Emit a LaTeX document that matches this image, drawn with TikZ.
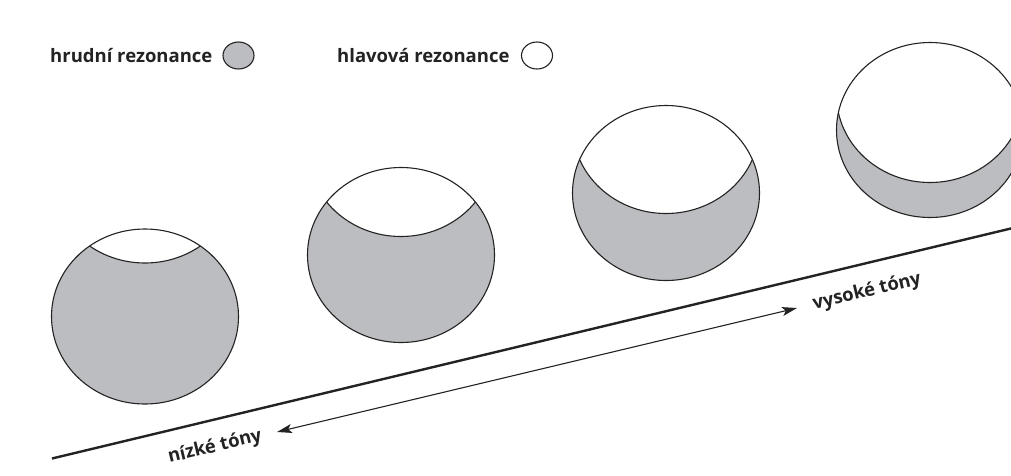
\documentclass[tikz,border=0pt]{standalone}
\usepackage{fontspec}
\newfontfamily\labfont{Open Sans}
\usetikzlibrary{arrows.meta,calc,shapes.geometric}
\definecolor{bowlgrey}{RGB}{188,189,192}
\definecolor{inkc}{RGB}{35,35,35}
\tikzset{
  outline/.style={draw=inkc, line width=1.1pt},
  lab/.style={font=\labfont\bfseries\fontsize{18.5}{20}\selectfont, text=inkc, inner sep=0pt},
  axisline/.style={draw=inkc, line width=2.4pt},
  pitcharrow/.style={draw=inkc, line width=1.1pt, {Stealth[length=15pt,width=9pt,inset=3.5pt]}-{Stealth[length=15pt,width=9pt,inset=3.5pt]}},
}
\begin{document}
\begin{tikzpicture}[x=1pt,y=-1pt]
\useasboundingbox (0,0) rectangle (1011,475);
\clip (0,0) rectangle (1011,475);
\fill[white] (0,0) rectangle (1011,475);
% legend
\node[lab, anchor=base west] (lchest) at (50,62) {hrudní rezonance};
\node[outline, fill=bowlgrey, ellipse, minimum width=31pt, minimum height=27pt, inner sep=0pt] (lchestc) at (238.5,55.5) {};
\node[lab, anchor=base west] (lhead) at (337,62) {hlavová rezonance};
\node[outline, fill=white, ellipse, minimum width=31pt, minimum height=27pt, inner sep=0pt] (lheadc) at (537,55.5) {};
% bowls
\foreach \cx/\cy/\d [count=\i] in {145/316.5/141, 401/255/106, 666/193/67, 930/130/35}{
  \coordinate (c\i) at (\cx,\cy);
  \coordinate (s\i) at (\cx,\cy-\d);
  \begin{scope}
    \fill[bowlgrey] (c\i) ellipse [x radius=93.5pt, y radius=87.5pt];
    \clip (c\i) ellipse [x radius=93.5pt, y radius=87.5pt];
    \fill[white] (s\i) ellipse [x radius=93.5pt, y radius=87.5pt];
    \draw[outline] (s\i) ellipse [x radius=93.5pt, y radius=87.5pt];
  \end{scope}
  \draw[outline] (c\i) ellipse [x radius=93.5pt, y radius=87.5pt];
}
% axis
\coordinate (axA) at (52,458.5);
\coordinate (axB) at (1015,227.5);
\draw[axisline] (axA) -- (axB);
\coordinate (arL) at (277,432);
\coordinate (arR) at (797,308);
\draw[pitcharrow] (arL) -- (arR);
\node[lab, rotate=13.5] (low) at (215,447) {nízké tóny};
\node[lab, rotate=13.5] (high) at (867,292) {vysoké tóny};
\end{tikzpicture}
\end{document}
